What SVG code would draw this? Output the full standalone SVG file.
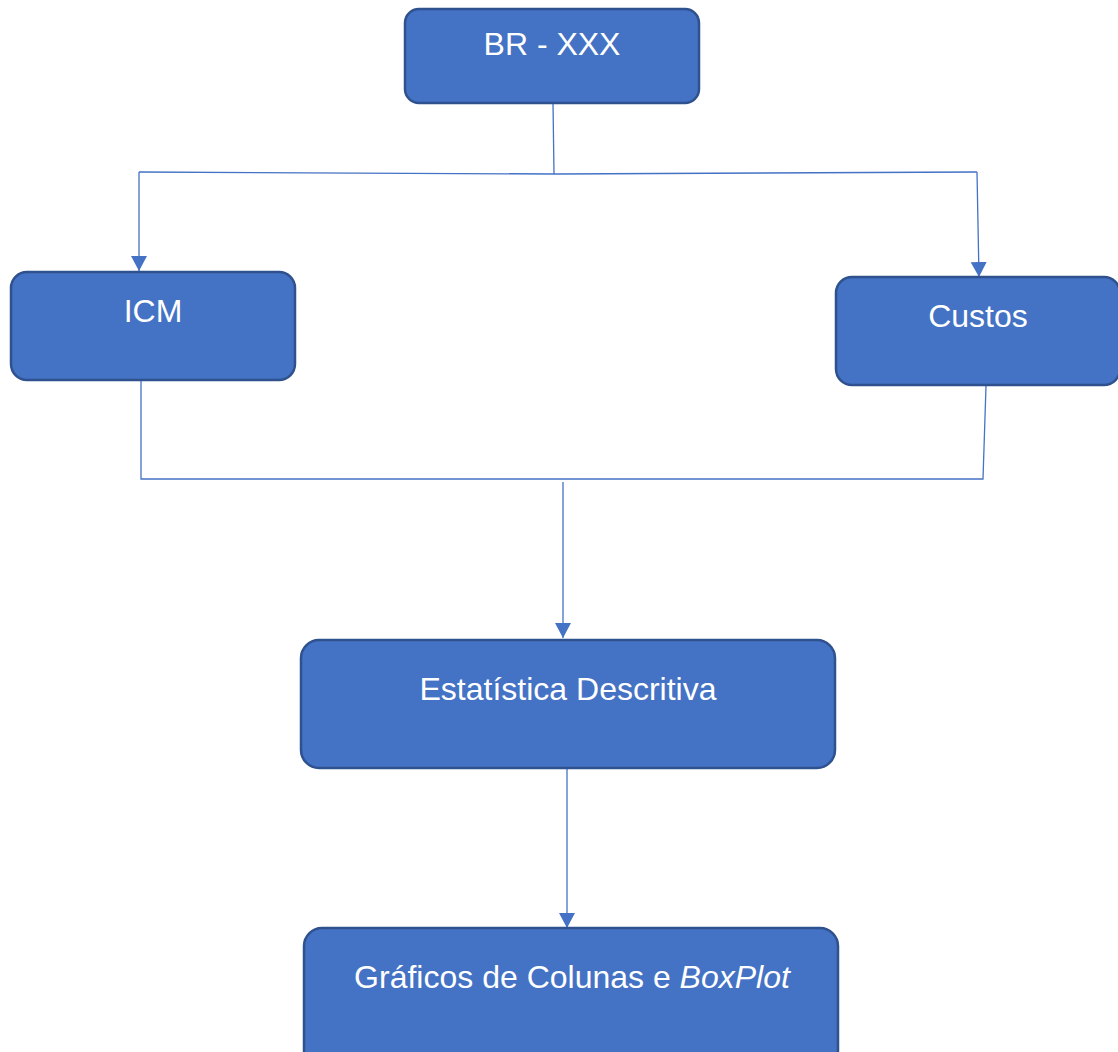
<svg xmlns="http://www.w3.org/2000/svg" width="1118" height="1052" viewBox="0 0 1118 1052">
<style>
.box{fill:#4472C4;stroke:#2F528F;stroke-width:2.5}
.lbl{fill:#FFFFFF;font-family:"Liberation Sans",Arial,sans-serif;font-size:32px;text-anchor:middle}
.ln{fill:none;stroke:#4472C4;stroke-width:1.3}
</style>
<defs>
<marker id="ah" markerWidth="16" markerHeight="16" refX="15" refY="8" orient="auto" markerUnits="userSpaceOnUse">
<path d="M0,0 L15,8 L0,16 Z" fill="#4472C4"/>
</marker>
</defs>
<rect width="1118" height="1052" fill="#FFFFFF"/>
<g id="connectors">
<polyline class="ln" points="553,103 554,174"/>
<polyline class="ln" points="139,172 555,174 977,172"/>
<line class="ln" x1="139" y1="172" x2="139" y2="271" marker-end="url(#ah)"/>
<line class="ln" x1="977" y1="172" x2="979" y2="277" marker-end="url(#ah)"/>
<polyline class="ln" points="141,381 141,479 983,479 986,386"/>
<line class="ln" x1="563" y1="482" x2="563" y2="638" marker-end="url(#ah)"/>
<line class="ln" x1="567" y1="768" x2="567" y2="928" marker-end="url(#ah)"/>
</g>
<g id="node-br">
<rect class="box" x="405" y="9" width="294" height="94" rx="14"/>
<text class="lbl" x="552" y="55">BR - XXX</text>
</g>
<g id="node-icm">
<rect class="box" x="11" y="272" width="284" height="108" rx="16"/>
<text class="lbl" x="153" y="322">ICM</text>
</g>
<g id="node-custos">
<rect class="box" x="836" y="277" width="284" height="108" rx="16"/>
<text class="lbl" x="978" y="327">Custos</text>
</g>
<g id="node-estatistica">
<rect class="box" x="301" y="640" width="534" height="128" rx="18"/>
<text class="lbl" x="568" y="700">Estatística Descritiva</text>
</g>
<g id="node-graficos">
<rect class="box" x="304" y="928" width="534" height="140" rx="18"/>
<text class="lbl" x="572" y="988">Gráficos de Colunas e <tspan font-style="italic">BoxPlot</tspan></text>
</g>
</svg>
